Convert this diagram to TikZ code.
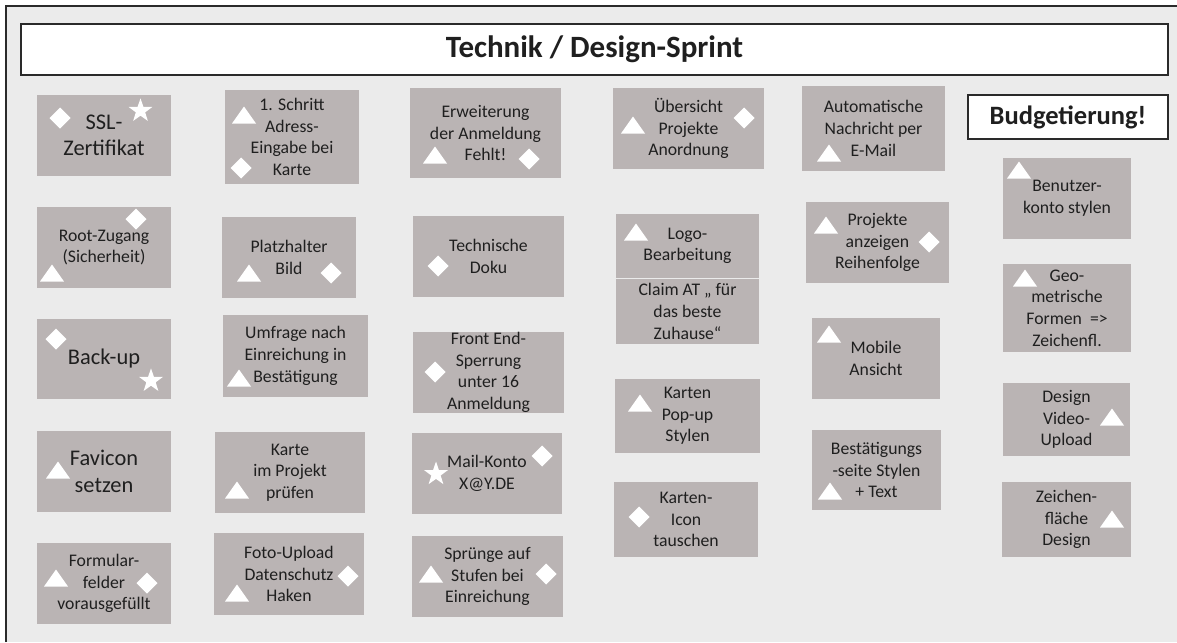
\documentclass[tikz,border=0pt]{standalone}
\usepackage{fontspec}
\setmainfont{Carlito}
\definecolor{canvas}{HTML}{EBEBEB}
\definecolor{cardfill}{HTML}{BAB4B4}
\definecolor{ink}{HTML}{1F1F1F}
\definecolor{framecol}{HTML}{2A2A2A}

\tikzset{
  card/.style={fill=cardfill, text=ink, align=center, inner sep=0pt,
    font=\fontsize{17.7}{21.7}\selectfont},
  bigcard/.style={card, font=\fontsize{22.4}{26.5}\selectfont},
  headbox/.style={draw=framecol, line width=2pt, fill=white, text=ink, inner sep=0pt},
  tri/.pic={\fill[white] (-12,8.5) -- (12,8.5) -- (0,-8.5) -- cycle;},
  dia/.pic={\fill[white] (0,-10.5) -- (10.5,0) -- (0,10.5) -- (-10.5,0) -- cycle;},
  starsym/.pic={\fill[white] plot[samples at={0,...,9}, variable=\k]
      ({ifthenelse(mod(\k,2)==0,12.5,4.9)*cos(-90+36*\k)},
       {ifthenelse(mod(\k,2)==0,12.5,4.9)*sin(-90+36*\k)}) -- cycle;}
}

% card from corner (x1,y1) to corner (x2,y2), pixel-style coordinates
\newcommand\taskcard[7][card]{%
  \node[#1, minimum width={#5-#3}, minimum height={#6-#4}]
    (#2) at ({(#3+#5)/2},{(#4+#6)/2}) {#7};}

\begin{document}
\begin{tikzpicture}[x=1pt, y=-1pt]
\useasboundingbox (0,0) rectangle (1177,642);

% board
\fill[canvas] (6,6) rectangle (1177,642);
\draw[framecol, line width=2pt] (6,642) -- (6,6) -- (1177,6);

% heading
\node[headbox, minimum width=1147, minimum height=51,
      font=\fontsize{31}{36}\selectfont\bfseries] (title) at (594.5,49.5)
  {Technik / Design-Sprint};

% column 1
\taskcard[bigcard]{ssl}{37}{95}{171}{176}{SSL-\\Zertifikat}
\pic at (60,118) {dia}; \pic at (140.5,110.8) {starsym};
\taskcard{root}{37}{207}{171}{288}{Root-Zugang\\(Sicherheit)}
\pic at (136,219) {dia}; \pic at (52,273) {tri};
\taskcard[bigcard]{backup}{37}{319}{171}{399}{Back-up}
\pic at (56,339) {dia}; \pic at (151,380.8) {starsym};
\taskcard[bigcard]{favicon}{37}{431}{171}{512}{Favicon\\setzen}
\pic at (58,470) {tri};
\taskcard{formular}{37}{543}{171}{624}{Formular-\\felder\\vorausgefüllt}
\pic at (56,578) {tri}; \pic at (147,583) {dia};

% column 2
\taskcard{schritt}{225}{90}{359}{184}{1. Schritt\\Adress-\\Eingabe bei\\Karte}
\pic at (244,115) {tri}; \pic at (241,168) {dia};
\taskcard{platz}{222}{217}{356}{298}{Platzhalter\\Bild}
\pic at (249,273) {tri}; \pic at (331,273) {dia};
\taskcard{umfrage}{223}{315}{368}{397}{Umfrage nach\\Einreichung in\\Bestätigung}
\pic at (239,378) {tri};
\taskcard{karte}{215}{432}{365}{513}{Karte\\im Projekt\\prüfen}
\pic at (237,490) {tri};
\taskcard{foto}{214}{533}{364}{615}{Foto-Upload\\Datenschutz\\Haken}
\pic at (237,593) {tri}; \pic at (348,576) {dia};

% column 3
\taskcard{erw}{410}{88}{561}{178}{Erweiterung\\der Anmeldung\\Fehlt!}
\pic at (435,155) {tri}; \pic at (529,159) {dia};
\taskcard{doku}{413}{216}{564}{297}{Technische\\Doku}
\pic at (438,266) {dia};
\taskcard{front}{413}{332}{564}{413}{Front End-\\Sperrung\\unter 16\\Anmeldung}
\pic at (435,372) {dia};
\taskcard{mail}{412}{433}{562}{514}{Mail-Konto\\X@Y.DE}
\pic at (436,474) {starsym}; \pic at (542,456) {dia};
\taskcard{spruenge}{412}{536}{563}{617}{Sprünge auf\\Stufen bei\\Einreichung}
\pic at (431,574) {tri}; \pic at (546,574) {dia};

% column 4
\taskcard{uebersicht}{613}{88}{764}{169}{Übersicht\\Projekte\\Anordnung}
\pic at (633,125) {tri}; \pic at (744,118) {dia};
\taskcard{logo}{616}{214}{759}{277.5}{Logo-\\Bearbeitung}
\pic at (636,232) {tri};
\taskcard{claim}{616}{278.5}{759}{344}{Claim AT „ für\\das beste\\Zuhause“}
\taskcard{popup}{615}{379}{760}{453}{Karten\\Pop-up\\Stylen}
\pic at (640,403) {tri};
\taskcard{icon}{614}{482}{758}{557}{Karten-\\Icon\\tauschen}
\pic at (639,517) {dia};

% column 5
\taskcard{automail}{802}{86}{945}{171}{Automatische\\Nachricht per\\E-Mail}
\pic at (829,153) {tri};
\taskcard{reihen}{806}{202}{949}{283}{Projekte\\anzeigen\\Reihenfolge}
\pic at (826,225) {tri}; \pic at (929,242) {dia};
\taskcard{mobile}{812}{318}{940}{399}{Mobile\\Ansicht}
\pic at (829,334) {tri};
\taskcard{bestaet}{812}{430}{941}{510}{Bestätigungs\\-seite Stylen\\+ Text}
\pic at (830,491) {tri};

% column 6
\node[headbox, minimum width=200, minimum height=44,
      font=\fontsize{26.5}{31}\selectfont\bfseries] (budget) at (1068,117)
  {Budgetierung!};
\taskcard{benutzer}{1003}{158}{1131}{239}{Benutzer-\\konto stylen}
\pic at (1019,170) {tri};
\taskcard{geo}{1003}{264}{1131}{352}{Geo-\\metrische\\Formen\ \ =>\\Zeichenfl.}
\pic at (1025,278) {tri};
\taskcard{video}{1003}{383}{1130}{456}{Design\\Video-\\Upload}
\pic at (1112,417) {tri};
\taskcard{zeichen}{1002}{482}{1131}{557}{Zeichen-\\fläche\\Design}
\pic at (1112,519) {tri};
\end{tikzpicture}
\end{document}
